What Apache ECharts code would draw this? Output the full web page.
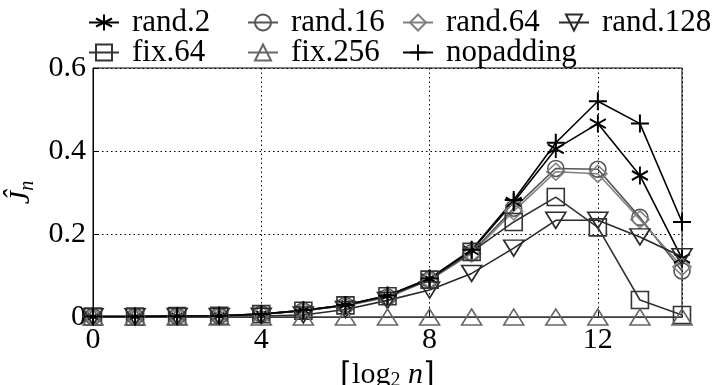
<!DOCTYPE html>
<html><head><meta charset="utf-8">
<script src="https://cdn.jsdelivr.net/npm/echarts@6/dist/echarts.min.js"></script>
<style>html,body{margin:0;padding:0;background:#fff}#c{width:714px;height:385px}</style>
</head><body><div id="c"></div>
<script>
const xs = [0,1,2,3,4,5,6,7,8,9,10,11,12,13,14];
const rand2 = [0.001,0.001,0.002,0.003,0.007,0.016,0.029,0.051,0.092,0.16,0.277,0.405,0.466,0.341,0.141];
const rand16 = [0.001,0.001,0.002,0.003,0.007,0.015,0.028,0.048,0.09,0.155,0.262,0.358,0.356,0.24,0.111];
const rand64 = [0.001,0.001,0.002,0.003,0.007,0.015,0.027,0.047,0.089,0.153,0.255,0.35,0.345,0.235,0.121];
const rand128 = [0.0005,0.0005,0.001,0.001,0.002,0.005,0.018,0.04,0.065,0.105,0.166,0.233,0.233,0.193,0.145];
const fix64 = [0.001,0.001,0.002,0.003,0.007,0.015,0.028,0.05,0.09,0.157,0.229,0.289,0.216,0.041,0.005];
const fix256 = [0,0,0,0,0,0,0,0,0,0,0,0,0,0,0];
const nopadding = [0.001,0.001,0.002,0.003,0.007,0.016,0.029,0.052,0.093,0.162,0.282,0.42,0.52,0.466,0.229];
const seriesNames = ['rand.2','rand.16','rand.64','rand.128','fix.64','fix.256','nopadding'];
const xTicks = [0,4,8,12];
const yTicks = [0,0.2,0.4,0.6];

const FONT = 'Liberation Serif';
const ASTER = 'path://M0,-10L0,10M-8.66,-5L8.66,5M-8.66,5L8.66,-5';
const PLUS = 'path://M-10,0L10,0M0,-10L0,10';
const specs = [
  {name:'rand.2', data:rand2, color:'#000', symbol:ASTER, size:[16,18], rot:0, bw:2},
  {name:'rand.16', data:rand16, color:'#555', symbol:'circle', size:16, rot:0, bw:1.6},
  {name:'rand.64', data:rand64, color:'#808080', symbol:'diamond', size:[18,17], rot:0, bw:1.6},
  {name:'rand.128', data:rand128, color:'#2a2a2a', symbol:'triangle', size:[20,16], rot:180, bw:1.6},
  {name:'fix.64', data:fix64, color:'#333', symbol:'rect', size:17, rot:0, bw:1.6},
  {name:'fix.256', data:fix256, color:'#666', symbol:'triangle', size:[20,16], rot:0, bw:1.6},
  {name:'nopadding', data:nopadding, color:'#000', symbol:PLUS, size:18, rot:0, bw:2}
];
const series = specs.map(s => ({
  name: s.name, type: 'line',
  data: xs.map((x,i) => [x, s.data[i]]),
  symbol: s.symbol, symbolSize: s.size, symbolRotate: s.rot,
  showAllSymbol: true,
  lineStyle: {color: s.color, width: 1.6},
  itemStyle: {color: 'rgba(0,0,0,0)', borderColor: s.color, borderWidth: s.bw},
  emphasis: {disabled: true},
  animation: false
}));

const legendPos = [
  ['rand.2', 88, 7], ['rand.16', 247, 7], ['rand.64', 402, 7], ['rand.128', 558, 7],
  ['fix.64', 88, 37], ['fix.256', 247, 37], ['nopadding', 402, 37]
];
const legends = legendPos.map(p => ({
  data: [p[0]], left: p[1], top: p[2], padding: 0,
  itemWidth: 30, itemHeight: 20,
  symbolRotate: 'inherit',
  selectedMode: false,
  formatter: '{a|{name}}',
  textStyle: {fontFamily: FONT, fontSize: 31, color: '#000', lineHeight: 26, padding: [0,0,0,8],
    rich: {a: {fontFamily: FONT, fontSize: 31, color: '#000', lineHeight: 26}}}
}));

const chart = echarts.init(document.getElementById('c'));
chart.setOption({
  animation: false,
  backgroundColor: '#fff',
  textStyle: {fontFamily: FONT},
  legend: legends,
  grid: {left: 93, right: 32, top: 68, bottom: 68, show: true, borderColor: '#000', borderWidth: 1,
    containLabel: false, outerBoundsMode: 'none'},
  xAxis: {
    type: 'value', min: 0, max: 14, interval: 4,
    name: '{t|⌈log}{s|2}{i| n}{t|⌉}', nameLocation: 'middle', nameGap: 37,
    nameTextStyle: {fontFamily: FONT, rich: {
      t: {fontFamily: FONT, fontSize: 30, color: '#000'},
      s: {fontFamily: FONT, fontSize: 20, color: '#000', padding: [12,0,0,0]},
      i: {fontFamily: FONT, fontSize: 30, fontStyle: 'italic', color: '#000'}
    }},
    axisLine: {lineStyle: {color: '#000', width: 1}},
    axisTick: {inside: true, length: 6, lineStyle: {color: '#000'}},
    axisLabel: {fontFamily: FONT, fontSize: 30, color: '#000', margin: 8, showMaxLabel: false,
      formatter: v => xTicks.includes(v) ? String(v) : ''},
    splitLine: {show: true, lineStyle: {color: '#000', type: [1.5,3], width: 1}}
  },
  yAxis: {
    type: 'value', min: 0, max: 0.6, interval: 0.2,
    name: '{a|Ĵ}{b|n}', nameLocation: 'middle', nameGap: 45, nameRotate: 90,
    nameTextStyle: {fontFamily: FONT, rich: {
      a: {fontFamily: FONT, fontSize: 30, fontStyle: 'italic', color: '#000'},
      b: {fontFamily: FONT, fontSize: 20, fontStyle: 'italic', color: '#000', padding: [12,0,0,0]}
    }},
    axisLine: {show: true, lineStyle: {color: '#000', width: 1}},
    axisTick: {show: true, inside: true, length: 6, lineStyle: {color: '#000'}},
    axisLabel: {fontFamily: FONT, fontSize: 30, color: '#000', margin: 7,
      formatter: v => { const t = yTicks.find(k => Math.abs(k - v) < 1e-9); return t === undefined ? '' : String(Math.round(t*10)/10); }},
    splitLine: {show: true, lineStyle: {color: '#000', type: [1.5,3], width: 1}}
  },
  series: series
});
</script></body></html>
